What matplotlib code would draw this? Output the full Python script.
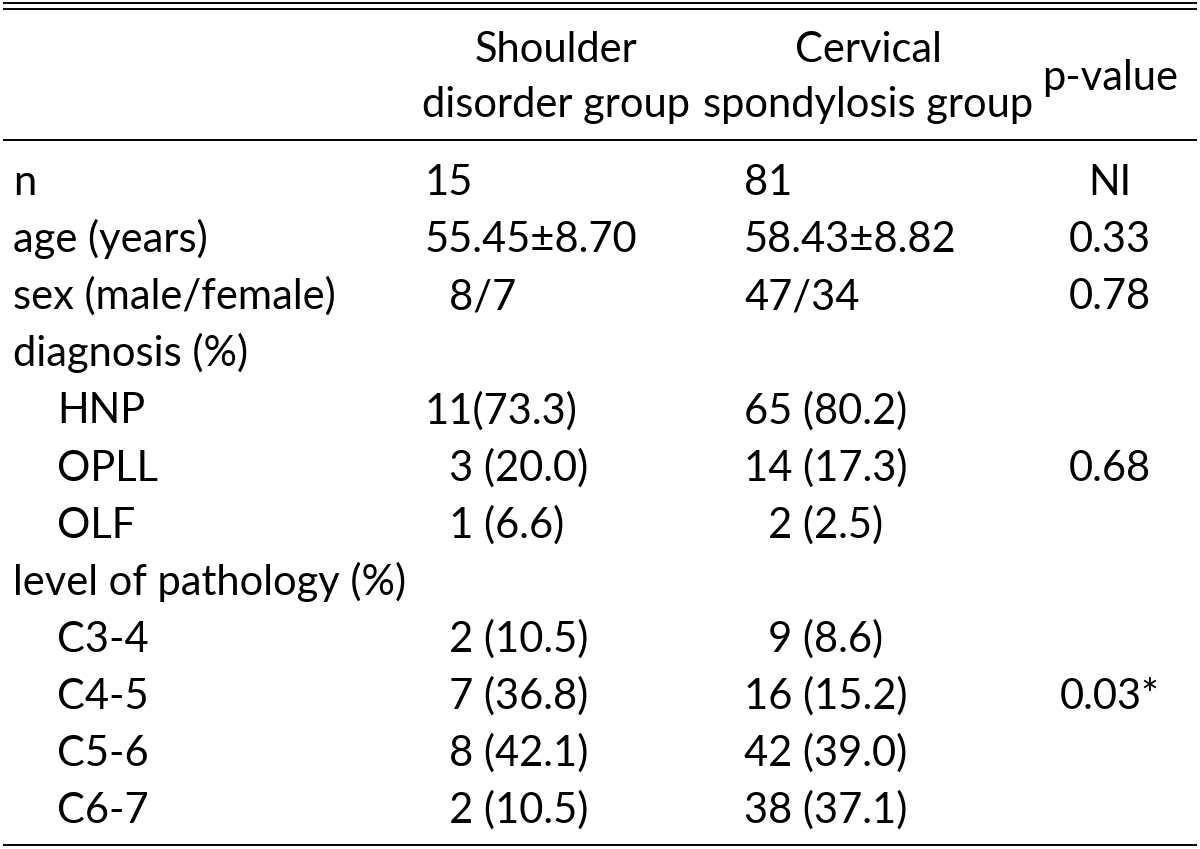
import matplotlib.pyplot as plt

plt.rcParams['font.family'] = ['Lato', 'DejaVu Sans']

FS = "\u2007"  # figure space, used for the digit padding seen in the source table

row_labels = ["n", "age (years)", "sex (male/female)", "diagnosis (%)",
              "HNP", "OPLL", "OLF", "level of pathology (%)",
              "C3-4", "C4-5", "C5-6", "C6-7"]
row_indent = [0, 0, 0, 0, 1, 1, 1, 0, 1, 1, 1, 1]

shoulder = ["15", "55.45\u00b18.70", FS + "8/7", "",
            "11(73.3)", FS + "3 (20.0)", FS + "1 (6.6)", "",
            FS + "2 (10.5)", FS + "7 (36.8)", FS + "8 (42.1)", FS + "2 (10.5)"]
cervical = ["81", "58.43\u00b18.82", "47/34", "",
            "65 (80.2)", "14 (17.3)", FS + "2 (2.5)", "",
            FS + "9 (8.6)", "16 (15.2)", "42 (39.0)", "38 (37.1)"]
p_values = ["NI", "0.33", "0.78", "", "", "0.68", "", "", "", "0.03*", "", ""]

head_1 = ["Shoulder", "Cervical"]
head_2 = ["disorder group", "spondylosis group"]
head_p = "p-value"

W, H = 1200, 849
fig = plt.figure(figsize=(W / 100, H / 100), dpi=100)
ax = fig.add_axes([0, 0, 1, 1])
ax.set_xlim(0, W)
ax.set_ylim(H, 0)
ax.axis("off")

size = 30
x_label, x_indent = 13, 57
x_col1, x_col2, x_p = 425, 744, 1110
head_cx = [556, 868]

# rules
for y in (3, 9, 140, 845):
    ax.hlines(y, 3, 1197, color="black", lw=1.4)

# header
for cx, t1, t2 in zip(head_cx, head_1, head_2):
    ax.text(cx, 62, t1, ha="center", va="baseline", fontsize=size)
    ax.text(cx, 117, t2, ha="center", va="baseline", fontsize=size)
ax.text(x_p, 90, head_p, ha="center", va="baseline", fontsize=size)

# body
y0, dy = 195, 57.1
for i, lab in enumerate(row_labels):
    y = y0 + i * dy
    ax.text(x_indent if row_indent[i] else x_label, y, lab,
            ha="left", va="baseline", fontsize=size)
    ax.text(x_col1, y, shoulder[i], ha="left", va="baseline", fontsize=size)
    ax.text(x_col2, y, cervical[i], ha="left", va="baseline", fontsize=size)
    ax.text(x_p, y, p_values[i], ha="center", va="baseline", fontsize=size)

fig.savefig("out.png", dpi=100, facecolor="white")
